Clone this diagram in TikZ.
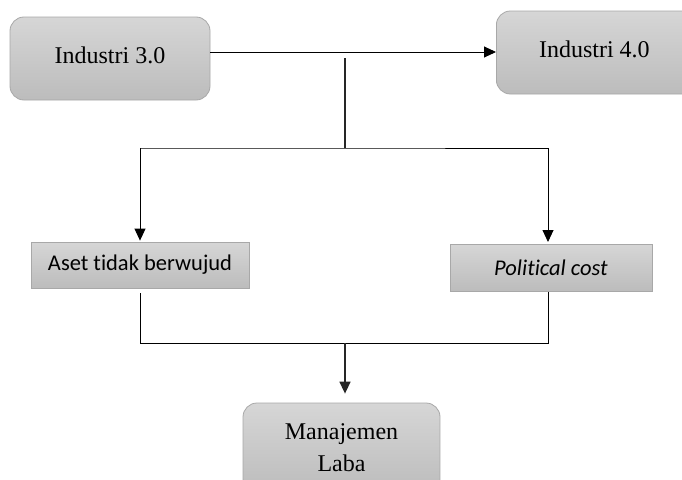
\documentclass[tikz,border=0pt]{standalone}
\usepackage{fontspec}
\setmainfont{Liberation Serif}
\newfontfamily\calib[Ligatures=NoCommon]{Carlito}
\usetikzlibrary{arrows.meta}
\definecolor{boxtop}{HTML}{D6D6D6}
\definecolor{boxbot}{HTML}{BCBCBC}
\definecolor{boxedge}{HTML}{A8A8A8}
\tikzset{
  x=1pt, y=-1pt,
  roundbox/.style={draw=boxedge, line width=0.8pt, rounded corners=14pt, top color=boxtop, bottom color=boxbot, inner sep=0pt, font=\fontsize{24}{32}\selectfont, align=center},
  sqbox/.style={draw=boxedge, line width=0.8pt, top color=boxtop, bottom color=boxbot, inner sep=0pt, font=\calib\fontsize{22.5}{27}\selectfont},
  conn/.style={draw=black, line width=0.9pt},
  thick conn/.style={draw=black!85, line width=1.6pt},
  arr/.style={-{Triangle[length=12pt,width=11pt]}}
}
\begin{document}
\begin{tikzpicture}
\useasboundingbox (0,0) rectangle (682,479);
\clip (0,0) rectangle (682,479);
\fill[white] (0,0) rectangle (682,479);
% boxes
\node[roundbox, minimum width=200pt, minimum height=83pt] (i3) at (110,58.5) {\raisebox{6.5pt}{Industri 3.0}};
\node[roundbox, minimum width=200pt, minimum height=83pt, anchor=west] (i4) at (496,52.5) {\hspace*{-4pt}\raisebox{7.5pt}{Industri 4.0}};
\node[sqbox, minimum width=218pt, minimum height=46pt] (aset) at (140,265) {Aset tidak berwujud};
\node[sqbox, minimum width=202pt, minimum height=47pt] (pol) at (551,267.5) {\itshape Political cost};
\node[roundbox, minimum width=197pt, minimum height=90pt] (ml) at (341.5,448) {Manajemen\\Laba};
% coordinates
\coordinate (mid) at (345,52);
\coordinate (top) at (345,58);
\coordinate (split) at (345,148);
\coordinate (join) at (345,343);
% top arrow
\draw[conn, arr] (i3.east |- mid) -- (i4.west |- mid);
\draw[thick conn] (top) -- (split);
\draw[conn] (aset.north |- split) -- (split) -- (548,148);
\draw[conn, arr] (aset.north |- split) -- ([yshift=1pt]aset.north);
\draw[conn, arr] (548,148) -- (548,242);
% bottom
\draw[conn] ([yshift=-5pt]aset.south) -- (aset.south |- join) -- (548,343) -- (548,292);
\draw[thick conn, arr] (join) -- ([yshift=9pt]ml.north -| join);
\end{tikzpicture}
\end{document}
